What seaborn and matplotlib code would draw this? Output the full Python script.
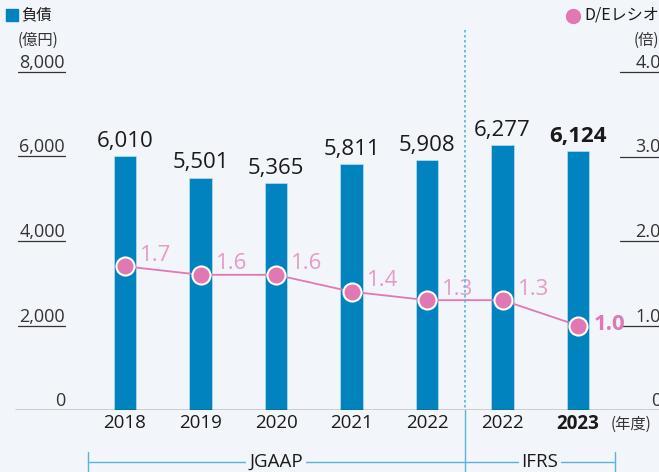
import matplotlib
matplotlib.use("Agg")
import matplotlib.pyplot as plt
import matplotlib.transforms as mtransforms
import seaborn as sns
import pandas as pd

# data
periods = ["2018", "2019", "2020", "2021", "2022J", "2022I", "2023"]
year_labels = ["2018", "2019", "2020", "2021", "2022", "2022", "2023"]
debt = [6010, 5501, 5365, 5811, 5908, 6277, 6124]
de_ratio = [1.7, 1.6, 1.6, 1.4, 1.3, 1.3, 1.0]
left_ticks = [0, 2000, 4000, 6000, 8000]
right_ticks = [0, 1.0, 2.0, 3.0, 4.0]

BG = "#F2F5F9"
BLUE = "#0083BF"
PINK = "#DF78B3"
PINK_LT = "#E59BC8"
LINEBLUE = "#5BB3DD"
TXT = "#1A1A1A"
JP = ["Noto Sans CJK JP", "DejaVu Sans"]

sns.set_theme(style="white")
plt.rcParams["font.family"] = ["Open Sans", "Noto Sans CJK JP", "DejaVu Sans"]

W, H = 659, 472
fig = plt.figure(figsize=(W / 100, H / 100), dpi=100, facecolor=BG)


def fx(x):
    return x / W


def fy(y):
    return 1 - y / H


# axes: baseline at y=410, top (8000) at y=72, x from 15 to 659
ax = fig.add_axes([fx(15), fy(410), fx(644), (410 - 72) / H])
ax.set_facecolor("none")

df = pd.DataFrame({"period": periods, "debt": debt, "ratio": de_ratio})
sns.barplot(data=df, x="period", y="debt", color=BLUE, width=0.3,
            saturation=1, edgecolor="#CFE6F3", linewidth=0.4, ax=ax)
ax.set_ylim(0, 8000)
ax.set_xlim((15 - 125) / 75.5, (659 - 125) / 75.5)
for s in ax.spines.values():
    s.set_visible(False)
ax.set_xlabel("")
ax.set_ylabel("")
ax.set_yticks([])
ax.set_xticks(range(len(year_labels)))
ax.set_xticklabels(year_labels, fontsize=13.5, color=TXT)
ax.tick_params(axis="x", length=0, pad=3)
ax.get_xticklabels()[-1].set_fontweight("bold")
ax.axhline(0, color="#333333", lw=1.0, zorder=5)

for i, v in enumerate(debt):
    ax.annotate(f"{v:,}", (i, v), xytext=(0, 3), textcoords="offset points",
                ha="center", va="bottom", fontsize=16, color=TXT,
                fontweight="bold" if i == len(debt) - 1 else "normal")

# left tick labels with underline
tl = mtransforms.blended_transform_factory(fig.transFigure, ax.transData)
for t in left_ticks:
    ax.text(fx(65), t, f"{t:,}", transform=tl, ha="right", va="bottom",
            fontsize=13, color="#333333")
    if t > 0:
        ax.plot([fx(18), fx(65)], [t, t], transform=tl, color="#333333",
                lw=0.9, clip_on=False)

# ratio line on twin axis
ax2 = ax.twinx()
ax2.set_ylim(0, 4)
for s in ax2.spines.values():
    s.set_visible(False)
ax2.set_yticks([])
ax2.set_ylabel("")
sns.lineplot(x=list(range(len(de_ratio))), y=de_ratio, color=PINK, lw=1.3,
             marker="o", markersize=13, markerfacecolor=PINK,
             markeredgecolor="white", markeredgewidth=1.5, ax=ax2)
for i, v in enumerate(de_ratio):
    last = i == len(de_ratio) - 1
    ax2.annotate(f"{v:.1f}", (i, v), xytext=(11, 1 if last else 8),
                 textcoords="offset points", ha="left", va="center",
                 fontsize=16, color=PINK if last else PINK_LT,
                 fontweight="bold" if last else "normal")

tr = mtransforms.blended_transform_factory(fig.transFigure, ax2.transData)
for t in right_ticks:
    ax2.text(fx(661), t, f"{t:.1f}" if t else "0", transform=tr, ha="right",
             va="bottom", fontsize=13, color="#333333")
    if t > 0:
        ax2.plot([fx(620), fx(659)], [t, t], transform=tr, color="#333333",
                 lw=0.9, clip_on=False)

# legend / units
fig.patches.append(plt.Rectangle((fx(6), fy(21)), fx(12), 12 / H,
                                 transform=fig.transFigure, color=BLUE))
fig.text(fx(21), fy(15), "負債", fontsize=11, va="center", ha="left",
         color=TXT, family=JP)
fig.text(fx(18), fy(40), "(億円)", fontsize=11, va="center", ha="left",
         color="#333333", family=JP)
fig.lines.append(plt.Line2D([fx(573)], [fy(16)], marker="o", markersize=10,
                            color=PINK, transform=fig.transFigure))
fig.text(fx(584), fy(15), "D/Eレシオ", fontsize=11.5, va="center", ha="left",
         color=TXT, family=JP)
fig.text(fx(634), fy(40), "(倍)", fontsize=11, va="center", ha="left",
         color="#333333", family=JP)
fig.text(fx(611), fy(424), "(年度)", fontsize=11, va="center", ha="left",
         color="#333333", family=JP)

# divider between JGAAP and IFRS
fig.lines.append(plt.Line2D([fx(465), fx(465)], [fy(30), fy(410)],
                            color=LINEBLUE, lw=1.2, ls=(0, (1.5, 1.5)),
                            transform=fig.transFigure))
fig.lines.append(plt.Line2D([fx(465), fx(465)], [fy(410), fy(472)],
                            color=LINEBLUE, lw=1.0, transform=fig.transFigure))

# accounting standard brackets
fig.lines.append(plt.Line2D([fx(88), fx(615)], [fy(462), fy(462)],
                            color=LINEBLUE, lw=1.0, transform=fig.transFigure))
for xb in (88, 615):
    fig.lines.append(plt.Line2D([fx(xb), fx(xb)], [fy(452), fy(472)],
                                color=LINEBLUE, lw=1.0,
                                transform=fig.transFigure))
for label, xc in (("JGAAP", 276), ("IFRS", 540)):
    fig.text(fx(xc), fy(462), label, fontsize=13.5, ha="center", va="center",
             color=TXT, bbox=dict(facecolor=BG, edgecolor="none", pad=2))

fig.savefig("out.png", dpi=100, facecolor=BG)
